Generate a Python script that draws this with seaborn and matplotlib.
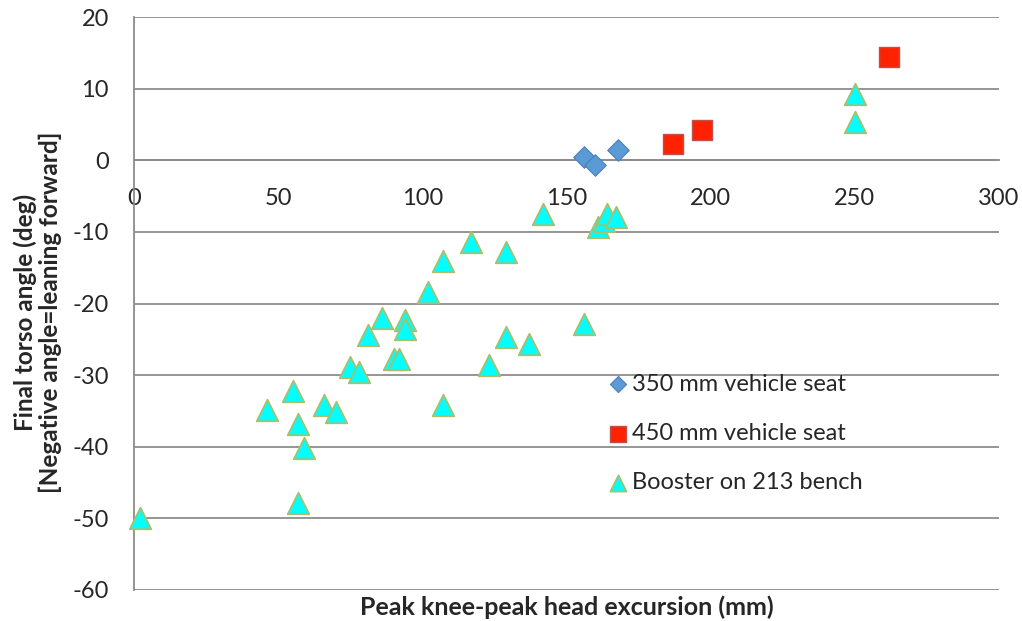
import matplotlib
matplotlib.use('Agg')
import matplotlib.pyplot as plt
import seaborn as sns
import pandas as pd

# 350 mm vehicle seat
seat350_x = [156, 160, 168]
seat350_y = [0.5, -0.6, 1.5]

# 450 mm vehicle seat
seat450_x = [187, 197, 262]
seat450_y = [2.2, 4.2, 14.4]

# Booster on 213 bench
booster_x = [2, 57, 59, 57, 55, 46, 66, 70, 75, 78, 81, 86, 90, 92, 94, 94,
             102, 107, 107, 117, 129, 142, 161, 163, 164, 167, 156, 129, 137,
             123, 250, 250]
booster_y = [-50, -47.9, -40.2, -36.8, -32.2, -34.8, -34.2, -35.1, -28.8, -29.5,
             -24.4, -22.0, -27.7, -27.7, -22.3, -23.5, -18.4, -14.0, -34.2, -11.4,
             -12.8, -7.5, -9.3, -8.5, -7.5, -7.9, -22.8, -24.7, -25.6, -28.6,
             9.3, 5.3]

x_ticks = [0, 50, 100, 150, 200, 250, 300]
y_ticks = [-60, -50, -40, -30, -20, -10, 0, 10, 20]

sns.set_style('white')
plt.rcParams['font.family'] = ['Lato', 'DejaVu Sans']
plt.rcParams['axes.unicode_minus'] = False

fig = plt.figure(figsize=(10.22, 6.21), dpi=100)
ax = fig.add_axes([134 / 1022, 1 - 590 / 621, 865 / 1022, 573 / 621])

grid_col = '#8c8c8c'
for yv in y_ticks:
    ax.axhline(yv, color=grid_col, lw=1.3, zorder=0)

df350 = pd.DataFrame({'x': seat350_x, 'y': seat350_y})
df450 = pd.DataFrame({'x': seat450_x, 'y': seat450_y})
dfb = pd.DataFrame({'x': booster_x, 'y': booster_y})

sns.scatterplot(data=df350, x='x', y='y', marker='D', s=120, color='#5b9bd5',
                edgecolor='#4a7ebb', linewidth=0.8, label='350 mm vehicle seat',
                ax=ax, zorder=3, clip_on=False)
sns.scatterplot(data=df450, x='x', y='y', marker='s', s=210, color='#ff2200',
                edgecolor='#c0504d', linewidth=1.0, label='450 mm vehicle seat',
                ax=ax, zorder=3, clip_on=False)
sns.scatterplot(data=dfb, x='x', y='y', marker='^', s=240, color='#00ffff',
                edgecolor='#a9bf6a', linewidth=1.3, label='Booster on 213 bench',
                ax=ax, zorder=3, clip_on=False)

ax.set_xlim(0, 300)
ax.set_ylim(-60, 20)
ax.set_xticks(x_ticks)
ax.set_yticks(y_ticks)

for side in ['top', 'right']:
    ax.spines[side].set_visible(False)
ax.spines['bottom'].set_position(('data', 0))
ax.spines['left'].set_color(grid_col)
ax.spines['bottom'].set_color(grid_col)
ax.spines['left'].set_linewidth(1.3)
ax.spines['bottom'].set_linewidth(1.3)

ax.tick_params(axis='both', which='major', labelsize=17, color=grid_col,
               length=7, width=1.3, direction='out')
ax.tick_params(axis='x', pad=13)
ax.tick_params(axis='y', pad=11)

ax.set_xlabel('Peak knee-peak head excursion (mm)', fontsize=18, fontweight='bold')
ax.xaxis.set_label_coords(0.5, -0.01)
ax.set_ylabel('Final torso angle (deg)\n[Negative angle=leaning forward]',
              fontsize=17.5, fontweight='bold', linespacing=1.1)
ax.yaxis.set_label_coords(-0.083, 0.485)

ax.legend(loc='upper left', bbox_to_anchor=(0.539, 0.394), frameon=False,
          fontsize=17, labelspacing=1.2, handlelength=0.7, handletextpad=0.25,
          markerscale=0.75, borderaxespad=0)

fig.savefig('out.png', dpi=100)
